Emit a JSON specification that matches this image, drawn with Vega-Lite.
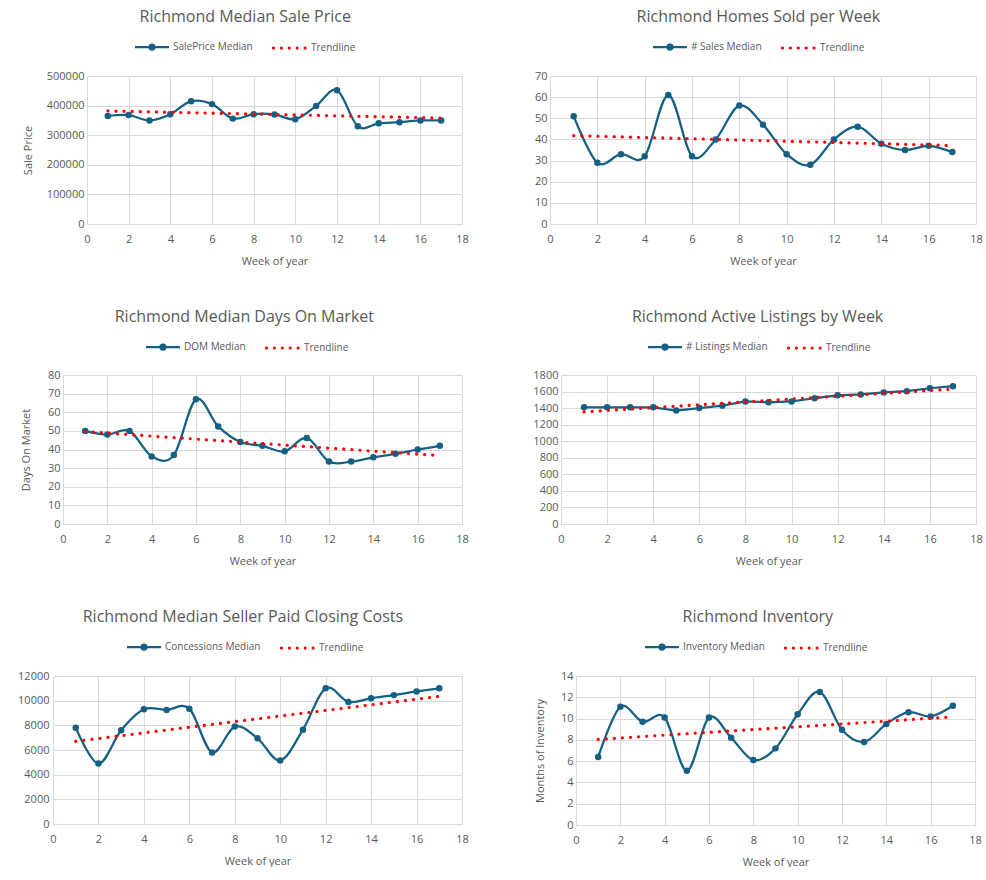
{
  "$schema": "https://vega.github.io/schema/vega-lite/v6.json",
  "background": "white",
  "padding": {"left": 17, "top": 9, "right": 0, "bottom": 0},
  "datasets": {
    "sale": [
      {"week": 1, "value": 365000, "series": "SalePrice Median"},
      {"week": 2, "value": 368000, "series": "SalePrice Median"},
      {"week": 3, "value": 350000, "series": "SalePrice Median"},
      {"week": 4, "value": 371000, "series": "SalePrice Median"},
      {"week": 5, "value": 415000, "series": "SalePrice Median"},
      {"week": 6, "value": 405000, "series": "SalePrice Median"},
      {"week": 7, "value": 356000, "series": "SalePrice Median"},
      {"week": 8, "value": 371000, "series": "SalePrice Median"},
      {"week": 9, "value": 370000, "series": "SalePrice Median"},
      {"week": 10, "value": 354000, "series": "SalePrice Median"},
      {"week": 11, "value": 399000, "series": "SalePrice Median"},
      {"week": 12, "value": 452000, "series": "SalePrice Median"},
      {"week": 13, "value": 330000, "series": "SalePrice Median"},
      {"week": 14, "value": 340000, "series": "SalePrice Median"},
      {"week": 15, "value": 344000, "series": "SalePrice Median"},
      {"week": 16, "value": 350000, "series": "SalePrice Median"},
      {"week": 17, "value": 350000, "series": "SalePrice Median"},
      {"week": 1, "value": 382000, "series": "Trendline"},
      {"week": 17, "value": 358000, "series": "Trendline"}
    ],
    "sales": [
      {"week": 1, "value": 51, "series": "# Sales Median"},
      {"week": 2, "value": 29, "series": "# Sales Median"},
      {"week": 3, "value": 33, "series": "# Sales Median"},
      {"week": 4, "value": 32, "series": "# Sales Median"},
      {"week": 5, "value": 61, "series": "# Sales Median"},
      {"week": 6, "value": 32, "series": "# Sales Median"},
      {"week": 7, "value": 40, "series": "# Sales Median"},
      {"week": 8, "value": 56, "series": "# Sales Median"},
      {"week": 9, "value": 47, "series": "# Sales Median"},
      {"week": 10, "value": 33, "series": "# Sales Median"},
      {"week": 11, "value": 28, "series": "# Sales Median"},
      {"week": 12, "value": 40, "series": "# Sales Median"},
      {"week": 13, "value": 46, "series": "# Sales Median"},
      {"week": 14, "value": 38, "series": "# Sales Median"},
      {"week": 15, "value": 35, "series": "# Sales Median"},
      {"week": 16, "value": 37, "series": "# Sales Median"},
      {"week": 17, "value": 34, "series": "# Sales Median"},
      {"week": 1, "value": 41.8, "series": "Trendline"},
      {"week": 17, "value": 37.1, "series": "Trendline"}
    ],
    "dom": [
      {"week": 1, "value": 50, "series": "DOM Median"},
      {"week": 2, "value": 48, "series": "DOM Median"},
      {"week": 3, "value": 50, "series": "DOM Median"},
      {"week": 4, "value": 36.3, "series": "DOM Median"},
      {"week": 5, "value": 37, "series": "DOM Median"},
      {"week": 6, "value": 67, "series": "DOM Median"},
      {"week": 7, "value": 52.4, "series": "DOM Median"},
      {"week": 8, "value": 44, "series": "DOM Median"},
      {"week": 9, "value": 42, "series": "DOM Median"},
      {"week": 10, "value": 39, "series": "DOM Median"},
      {"week": 11, "value": 46.2, "series": "DOM Median"},
      {"week": 12, "value": 33.5, "series": "DOM Median"},
      {"week": 13, "value": 33.5, "series": "DOM Median"},
      {"week": 14, "value": 35.8, "series": "DOM Median"},
      {"week": 15, "value": 37.7, "series": "DOM Median"},
      {"week": 16, "value": 40, "series": "DOM Median"},
      {"week": 17, "value": 42, "series": "DOM Median"},
      {"week": 1, "value": 49.6, "series": "Trendline"},
      {"week": 17, "value": 36.7, "series": "Trendline"}
    ],
    "listings": [
      {"week": 1, "value": 1410, "series": "# Listings Median"},
      {"week": 2, "value": 1410, "series": "# Listings Median"},
      {"week": 3, "value": 1410, "series": "# Listings Median"},
      {"week": 4, "value": 1410, "series": "# Listings Median"},
      {"week": 5, "value": 1370, "series": "# Listings Median"},
      {"week": 6, "value": 1400, "series": "# Listings Median"},
      {"week": 7, "value": 1430, "series": "# Listings Median"},
      {"week": 8, "value": 1480, "series": "# Listings Median"},
      {"week": 9, "value": 1470, "series": "# Listings Median"},
      {"week": 10, "value": 1480, "series": "# Listings Median"},
      {"week": 11, "value": 1520, "series": "# Listings Median"},
      {"week": 12, "value": 1555, "series": "# Listings Median"},
      {"week": 13, "value": 1565, "series": "# Listings Median"},
      {"week": 14, "value": 1590, "series": "# Listings Median"},
      {"week": 15, "value": 1605, "series": "# Listings Median"},
      {"week": 16, "value": 1640, "series": "# Listings Median"},
      {"week": 17, "value": 1665, "series": "# Listings Median"},
      {"week": 1, "value": 1355, "series": "Trendline"},
      {"week": 17, "value": 1630, "series": "Trendline"}
    ],
    "concessions": [
      {"week": 1, "value": 7800, "series": "Concessions Median"},
      {"week": 2, "value": 4900, "series": "Concessions Median"},
      {"week": 3, "value": 7600, "series": "Concessions Median"},
      {"week": 4, "value": 9300, "series": "Concessions Median"},
      {"week": 5, "value": 9250, "series": "Concessions Median"},
      {"week": 6, "value": 9350, "series": "Concessions Median"},
      {"week": 7, "value": 5800, "series": "Concessions Median"},
      {"week": 8, "value": 7900, "series": "Concessions Median"},
      {"week": 9, "value": 6950, "series": "Concessions Median"},
      {"week": 10, "value": 5150, "series": "Concessions Median"},
      {"week": 11, "value": 7650, "series": "Concessions Median"},
      {"week": 12, "value": 11000, "series": "Concessions Median"},
      {"week": 13, "value": 9900, "series": "Concessions Median"},
      {"week": 14, "value": 10200, "series": "Concessions Median"},
      {"week": 15, "value": 10450, "series": "Concessions Median"},
      {"week": 16, "value": 10750, "series": "Concessions Median"},
      {"week": 17, "value": 11000, "series": "Concessions Median"},
      {"week": 1, "value": 6700, "series": "Trendline"},
      {"week": 17, "value": 10350, "series": "Trendline"}
    ],
    "inventory": [
      {"week": 1, "value": 6.4, "series": "Inventory Median"},
      {"week": 2, "value": 11.1, "series": "Inventory Median"},
      {"week": 3, "value": 9.7, "series": "Inventory Median"},
      {"week": 4, "value": 10.1, "series": "Inventory Median"},
      {"week": 5, "value": 5.1, "series": "Inventory Median"},
      {"week": 6, "value": 10.1, "series": "Inventory Median"},
      {"week": 7, "value": 8.2, "series": "Inventory Median"},
      {"week": 8, "value": 6.1, "series": "Inventory Median"},
      {"week": 9, "value": 7.2, "series": "Inventory Median"},
      {"week": 10, "value": 10.4, "series": "Inventory Median"},
      {"week": 11, "value": 12.5, "series": "Inventory Median"},
      {"week": 12, "value": 8.95, "series": "Inventory Median"},
      {"week": 13, "value": 7.8, "series": "Inventory Median"},
      {"week": 14, "value": 9.5, "series": "Inventory Median"},
      {"week": 15, "value": 10.6, "series": "Inventory Median"},
      {"week": 16, "value": 10.2, "series": "Inventory Median"},
      {"week": 17, "value": 11.2, "series": "Inventory Median"},
      {"week": 1, "value": 8.05, "series": "Trendline"},
      {"week": 17, "value": 10.15, "series": "Trendline"}
    ]
  },
  "columns": 2,
  "spacing": {"row": 43, "column": 63},
  "resolve": {"scale": {"x": "independent", "y": "independent", "color": "independent"}, "legend": {"color": "independent"}},
  "concat": [
    {
      "width": 409, "height": 148,
      "title": "Richmond Median Sale Price",
      "data": {"name": "sale"},
      "encoding": {
        "x": {"field": "week", "type": "quantitative", "scale": {"domain": [0, 18], "nice": false, "range": [34, 409]}, "axis": {"values": [0, 2, 4, 6, 8, 10, 12, 14, 16, 18], "title": "Week of year"}},
        "y": {"field": "value", "type": "quantitative", "scale": {"domain": [0, 500000], "nice": false}, "axis": {"values": [0, 100000, 200000, 300000, 400000, 500000], "format": "d", "title": "Sale Price", "titlePadding": 13, "offset": -34}},
        "color": {"field": "series", "type": "nominal", "scale": {"domain": ["SalePrice Median", "Trendline"], "range": ["#156082", "#ff0000"]},
          "legend": {"title": null, "orient": "none", "legendX": 82, "legendY": -34, "direction": "horizontal", "encode": {"symbols": {"update": {
            "shape": {"signal": "datum.value === 'Trendline' ? 'M-1.22,0A0.32,0.32,0,1,0,-0.58,0A0.32,0.32,0,1,0,-1.22,0ZM0.36,0A0.32,0.32,0,1,0,1.0,0A0.32,0.32,0,1,0,0.36,0ZM1.94,0A0.32,0.32,0,1,0,2.58,0A0.32,0.32,0,1,0,1.94,0ZM3.52,0A0.32,0.32,0,1,0,4.16,0A0.32,0.32,0,1,0,3.52,0ZM5.1,0A0.32,0.32,0,1,0,5.74,0A0.32,0.32,0,1,0,5.1,0Z' : 'M-1,0L5.8,0M1.9,0A0.5,0.5,0,1,0,2.9,0A0.5,0.5,0,1,0,1.9,0Z'"},
            "fill": {"signal": "datum.value === 'Trendline' ? '#ff0000' : '#156082'"},
            "stroke": {"signal": "datum.value === 'Trendline' ? 'transparent' : '#156082'"},
            "strokeWidth": {"signal": "datum.value === 'Trendline' ? 0 : 2.25"},
            "opacity": {"value": 1}, "fillOpacity": {"value": 1}, "strokeOpacity": {"value": 1}}}}}}
      },
      "layer": [
        {"transform": [{"filter": "datum.series !== 'Trendline'"}], "mark": {"type": "line", "interpolate": "cardinal", "tension": 0, "strokeWidth": 2.25, "point": {"filled": true, "size": 42, "opacity": 1}}},
        {"transform": [{"filter": "datum.series === 'Trendline'"}], "mark": {"type": "line", "strokeWidth": 3.2, "strokeDash": [0.1, 8], "strokeCap": "round"}}
      ]
    },
    {
      "width": 426, "height": 148,
      "title": "Richmond Homes Sold per Week",
      "data": {"name": "sales"},
      "encoding": {
        "x": {"field": "week", "type": "quantitative", "scale": {"domain": [0, 18], "nice": false}, "axis": {"values": [0, 2, 4, 6, 8, 10, 12, 14, 16, 18], "title": "Week of year"}},
        "y": {"field": "value", "type": "quantitative", "scale": {"domain": [0, 70], "nice": false}, "axis": {"values": [0, 10, 20, 30, 40, 50, 60, 70], "format": "d", "title": null}},
        "color": {"field": "series", "type": "nominal", "scale": {"domain": ["# Sales Median", "Trendline"], "range": ["#156082", "#ff0000"]},
          "legend": {"title": null, "orient": "none", "legendX": 103, "legendY": -34, "direction": "horizontal", "encode": {"symbols": {"update": {
            "shape": {"signal": "datum.value === 'Trendline' ? 'M-1.22,0A0.32,0.32,0,1,0,-0.58,0A0.32,0.32,0,1,0,-1.22,0ZM0.36,0A0.32,0.32,0,1,0,1.0,0A0.32,0.32,0,1,0,0.36,0ZM1.94,0A0.32,0.32,0,1,0,2.58,0A0.32,0.32,0,1,0,1.94,0ZM3.52,0A0.32,0.32,0,1,0,4.16,0A0.32,0.32,0,1,0,3.52,0ZM5.1,0A0.32,0.32,0,1,0,5.74,0A0.32,0.32,0,1,0,5.1,0Z' : 'M-1,0L5.8,0M1.9,0A0.5,0.5,0,1,0,2.9,0A0.5,0.5,0,1,0,1.9,0Z'"},
            "fill": {"signal": "datum.value === 'Trendline' ? '#ff0000' : '#156082'"},
            "stroke": {"signal": "datum.value === 'Trendline' ? 'transparent' : '#156082'"},
            "strokeWidth": {"signal": "datum.value === 'Trendline' ? 0 : 2.25"},
            "opacity": {"value": 1}, "fillOpacity": {"value": 1}, "strokeOpacity": {"value": 1}}}}}}
      },
      "layer": [
        {"transform": [{"filter": "datum.series !== 'Trendline'"}], "mark": {"type": "line", "interpolate": "cardinal", "tension": 0, "strokeWidth": 2.25, "point": {"filled": true, "size": 42, "opacity": 1}}},
        {"transform": [{"filter": "datum.series === 'Trendline'"}], "mark": {"type": "line", "strokeWidth": 3.2, "strokeDash": [0.1, 8], "strokeCap": "round"}}
      ]
    },
    {
      "width": 409, "height": 149,
      "title": "Richmond Median Days On Market",
      "data": {"name": "dom"},
      "encoding": {
        "x": {"field": "week", "type": "quantitative", "scale": {"domain": [0, 18], "nice": false, "range": [10, 409]}, "axis": {"values": [0, 2, 4, 6, 8, 10, 12, 14, 16, 18], "title": "Week of year"}},
        "y": {"field": "value", "type": "quantitative", "scale": {"domain": [0, 80], "nice": false}, "axis": {"values": [0, 10, 20, 30, 40, 50, 60, 70, 80], "format": "d", "title": "Days On Market", "titlePadding": 16, "offset": -10}},
        "color": {"field": "series", "type": "nominal", "scale": {"domain": ["DOM Median", "Trendline"], "range": ["#156082", "#ff0000"]},
          "legend": {"title": null, "orient": "none", "legendX": 93, "legendY": -33, "direction": "horizontal", "encode": {"symbols": {"update": {
            "shape": {"signal": "datum.value === 'Trendline' ? 'M-1.22,0A0.32,0.32,0,1,0,-0.58,0A0.32,0.32,0,1,0,-1.22,0ZM0.36,0A0.32,0.32,0,1,0,1.0,0A0.32,0.32,0,1,0,0.36,0ZM1.94,0A0.32,0.32,0,1,0,2.58,0A0.32,0.32,0,1,0,1.94,0ZM3.52,0A0.32,0.32,0,1,0,4.16,0A0.32,0.32,0,1,0,3.52,0ZM5.1,0A0.32,0.32,0,1,0,5.74,0A0.32,0.32,0,1,0,5.1,0Z' : 'M-1,0L5.8,0M1.9,0A0.5,0.5,0,1,0,2.9,0A0.5,0.5,0,1,0,1.9,0Z'"},
            "fill": {"signal": "datum.value === 'Trendline' ? '#ff0000' : '#156082'"},
            "stroke": {"signal": "datum.value === 'Trendline' ? 'transparent' : '#156082'"},
            "strokeWidth": {"signal": "datum.value === 'Trendline' ? 0 : 2.25"},
            "opacity": {"value": 1}, "fillOpacity": {"value": 1}, "strokeOpacity": {"value": 1}}}}}}
      },
      "layer": [
        {"transform": [{"filter": "datum.series !== 'Trendline'"}], "mark": {"type": "line", "interpolate": "cardinal", "tension": 0, "strokeWidth": 2.25, "point": {"filled": true, "size": 42, "opacity": 1}}},
        {"transform": [{"filter": "datum.series === 'Trendline'"}], "mark": {"type": "line", "strokeWidth": 3.2, "strokeDash": [0.1, 8], "strokeCap": "round"}}
      ]
    },
    {
      "width": 426, "height": 149,
      "title": "Richmond Active Listings by Week",
      "data": {"name": "listings"},
      "encoding": {
        "x": {"field": "week", "type": "quantitative", "scale": {"domain": [0, 18], "nice": false, "range": [11, 426]}, "axis": {"values": [0, 2, 4, 6, 8, 10, 12, 14, 16, 18], "title": "Week of year"}},
        "y": {"field": "value", "type": "quantitative", "scale": {"domain": [0, 1800], "nice": false}, "axis": {"values": [0, 200, 400, 600, 800, 1000, 1200, 1400, 1600, 1800], "format": "d", "title": null, "offset": -11}},
        "color": {"field": "series", "type": "nominal", "scale": {"domain": ["# Listings Median", "Trendline"], "range": ["#156082", "#ff0000"]},
          "legend": {"title": null, "orient": "none", "legendX": 98, "legendY": -33, "direction": "horizontal", "encode": {"symbols": {"update": {
            "shape": {"signal": "datum.value === 'Trendline' ? 'M-1.22,0A0.32,0.32,0,1,0,-0.58,0A0.32,0.32,0,1,0,-1.22,0ZM0.36,0A0.32,0.32,0,1,0,1.0,0A0.32,0.32,0,1,0,0.36,0ZM1.94,0A0.32,0.32,0,1,0,2.58,0A0.32,0.32,0,1,0,1.94,0ZM3.52,0A0.32,0.32,0,1,0,4.16,0A0.32,0.32,0,1,0,3.52,0ZM5.1,0A0.32,0.32,0,1,0,5.74,0A0.32,0.32,0,1,0,5.1,0Z' : 'M-1,0L5.8,0M1.9,0A0.5,0.5,0,1,0,2.9,0A0.5,0.5,0,1,0,1.9,0Z'"},
            "fill": {"signal": "datum.value === 'Trendline' ? '#ff0000' : '#156082'"},
            "stroke": {"signal": "datum.value === 'Trendline' ? 'transparent' : '#156082'"},
            "strokeWidth": {"signal": "datum.value === 'Trendline' ? 0 : 2.25"},
            "opacity": {"value": 1}, "fillOpacity": {"value": 1}, "strokeOpacity": {"value": 1}}}}}}
      },
      "layer": [
        {"transform": [{"filter": "datum.series !== 'Trendline'"}], "mark": {"type": "line", "interpolate": "linear", "strokeWidth": 2.25, "point": {"filled": true, "size": 42, "opacity": 1}}},
        {"transform": [{"filter": "datum.series === 'Trendline'"}], "mark": {"type": "line", "strokeWidth": 3.2, "strokeDash": [0.1, 8], "strokeCap": "round"}}
      ]
    },
    {
      "width": 409, "height": 148,
      "title": "Richmond Median Seller Paid Closing Costs",
      "data": {"name": "concessions"},
      "encoding": {
        "x": {"field": "week", "type": "quantitative", "scale": {"domain": [0, 18], "nice": false}, "axis": {"values": [0, 2, 4, 6, 8, 10, 12, 14, 16, 18], "title": "Week of year"}},
        "y": {"field": "value", "type": "quantitative", "scale": {"domain": [0, 12000], "nice": false}, "axis": {"values": [0, 2000, 4000, 6000, 8000, 10000, 12000], "format": "d", "title": null, "labelPadding": 4}},
        "color": {"field": "series", "type": "nominal", "scale": {"domain": ["Concessions Median", "Trendline"], "range": ["#156082", "#ff0000"]},
          "legend": {"title": null, "orient": "none", "legendX": 74, "legendY": -34, "direction": "horizontal", "encode": {"symbols": {"update": {
            "shape": {"signal": "datum.value === 'Trendline' ? 'M-1.22,0A0.32,0.32,0,1,0,-0.58,0A0.32,0.32,0,1,0,-1.22,0ZM0.36,0A0.32,0.32,0,1,0,1.0,0A0.32,0.32,0,1,0,0.36,0ZM1.94,0A0.32,0.32,0,1,0,2.58,0A0.32,0.32,0,1,0,1.94,0ZM3.52,0A0.32,0.32,0,1,0,4.16,0A0.32,0.32,0,1,0,3.52,0ZM5.1,0A0.32,0.32,0,1,0,5.74,0A0.32,0.32,0,1,0,5.1,0Z' : 'M-1,0L5.8,0M1.9,0A0.5,0.5,0,1,0,2.9,0A0.5,0.5,0,1,0,1.9,0Z'"},
            "fill": {"signal": "datum.value === 'Trendline' ? '#ff0000' : '#156082'"},
            "stroke": {"signal": "datum.value === 'Trendline' ? 'transparent' : '#156082'"},
            "strokeWidth": {"signal": "datum.value === 'Trendline' ? 0 : 2.25"},
            "opacity": {"value": 1}, "fillOpacity": {"value": 1}, "strokeOpacity": {"value": 1}}}}}}
      },
      "layer": [
        {"transform": [{"filter": "datum.series !== 'Trendline'"}], "mark": {"type": "line", "interpolate": "cardinal", "tension": 0, "strokeWidth": 2.25, "point": {"filled": true, "size": 42, "opacity": 1}}},
        {"transform": [{"filter": "datum.series === 'Trendline'"}], "mark": {"type": "line", "strokeWidth": 3.2, "strokeDash": [0.1, 8], "strokeCap": "round"}}
      ]
    },
    {
      "width": 426, "height": 149,
      "title": "Richmond Inventory",
      "data": {"name": "inventory"},
      "encoding": {
        "x": {"field": "week", "type": "quantitative", "scale": {"domain": [0, 18], "nice": false, "range": [26, 425]}, "axis": {"values": [0, 2, 4, 6, 8, 10, 12, 14, 16, 18], "title": "Week of year"}},
        "y": {"field": "value", "type": "quantitative", "scale": {"domain": [0, 14], "nice": false}, "axis": {"values": [0, 2, 4, 6, 8, 10, 12, 14], "format": "d", "title": "Months of Inventory", "titlePadding": 15, "offset": -26}},
        "color": {"field": "series", "type": "nominal", "scale": {"domain": ["Inventory Median", "Trendline"], "range": ["#156082", "#ff0000"]},
          "legend": {"title": null, "orient": "none", "legendX": 95, "legendY": -34, "direction": "horizontal", "encode": {"symbols": {"update": {
            "shape": {"signal": "datum.value === 'Trendline' ? 'M-1.22,0A0.32,0.32,0,1,0,-0.58,0A0.32,0.32,0,1,0,-1.22,0ZM0.36,0A0.32,0.32,0,1,0,1.0,0A0.32,0.32,0,1,0,0.36,0ZM1.94,0A0.32,0.32,0,1,0,2.58,0A0.32,0.32,0,1,0,1.94,0ZM3.52,0A0.32,0.32,0,1,0,4.16,0A0.32,0.32,0,1,0,3.52,0ZM5.1,0A0.32,0.32,0,1,0,5.74,0A0.32,0.32,0,1,0,5.1,0Z' : 'M-1,0L5.8,0M1.9,0A0.5,0.5,0,1,0,2.9,0A0.5,0.5,0,1,0,1.9,0Z'"},
            "fill": {"signal": "datum.value === 'Trendline' ? '#ff0000' : '#156082'"},
            "stroke": {"signal": "datum.value === 'Trendline' ? 'transparent' : '#156082'"},
            "strokeWidth": {"signal": "datum.value === 'Trendline' ? 0 : 2.25"},
            "opacity": {"value": 1}, "fillOpacity": {"value": 1}, "strokeOpacity": {"value": 1}}}}}}
      },
      "layer": [
        {"transform": [{"filter": "datum.series !== 'Trendline'"}], "mark": {"type": "line", "interpolate": "cardinal", "tension": 0, "strokeWidth": 2.25, "point": {"filled": true, "size": 42, "opacity": 1}}},
        {"transform": [{"filter": "datum.series === 'Trendline'"}], "mark": {"type": "line", "strokeWidth": 3.2, "strokeDash": [0.1, 8], "strokeCap": "round"}}
      ]
    }
  ],
  "config": {
    "font": "Open Sans",
    "view": {"stroke": null},
    "title": {"font": "Open Sans", "fontSize": 16, "fontWeight": "normal", "color": "#595959", "anchor": "middle", "frame": "bounds", "offset": 17},
    "axis": {"labelFont": "Open Sans", "labelFontSize": 11, "labelColor": "#595959", "titleFont": "Open Sans", "titleFontSize": 11, "titleFontWeight": "normal", "titleColor": "#595959", "gridColor": "#d9d9d9", "gridWidth": 1, "domainColor": "#d9d9d9", "ticks": false, "tickSize": 0},
    "axisX": {"labelPadding": 9, "titlePadding": 11, "labelFlush": false},
    "axisY": {"domain": false, "labelPadding": 3},
    "legend": {"labelFont": "Open Sans", "labelFontSize": 10, "labelColor": "#595959", "symbolSize": 100, "columnPadding": 18, "labelOffset": 28}
  }
}
